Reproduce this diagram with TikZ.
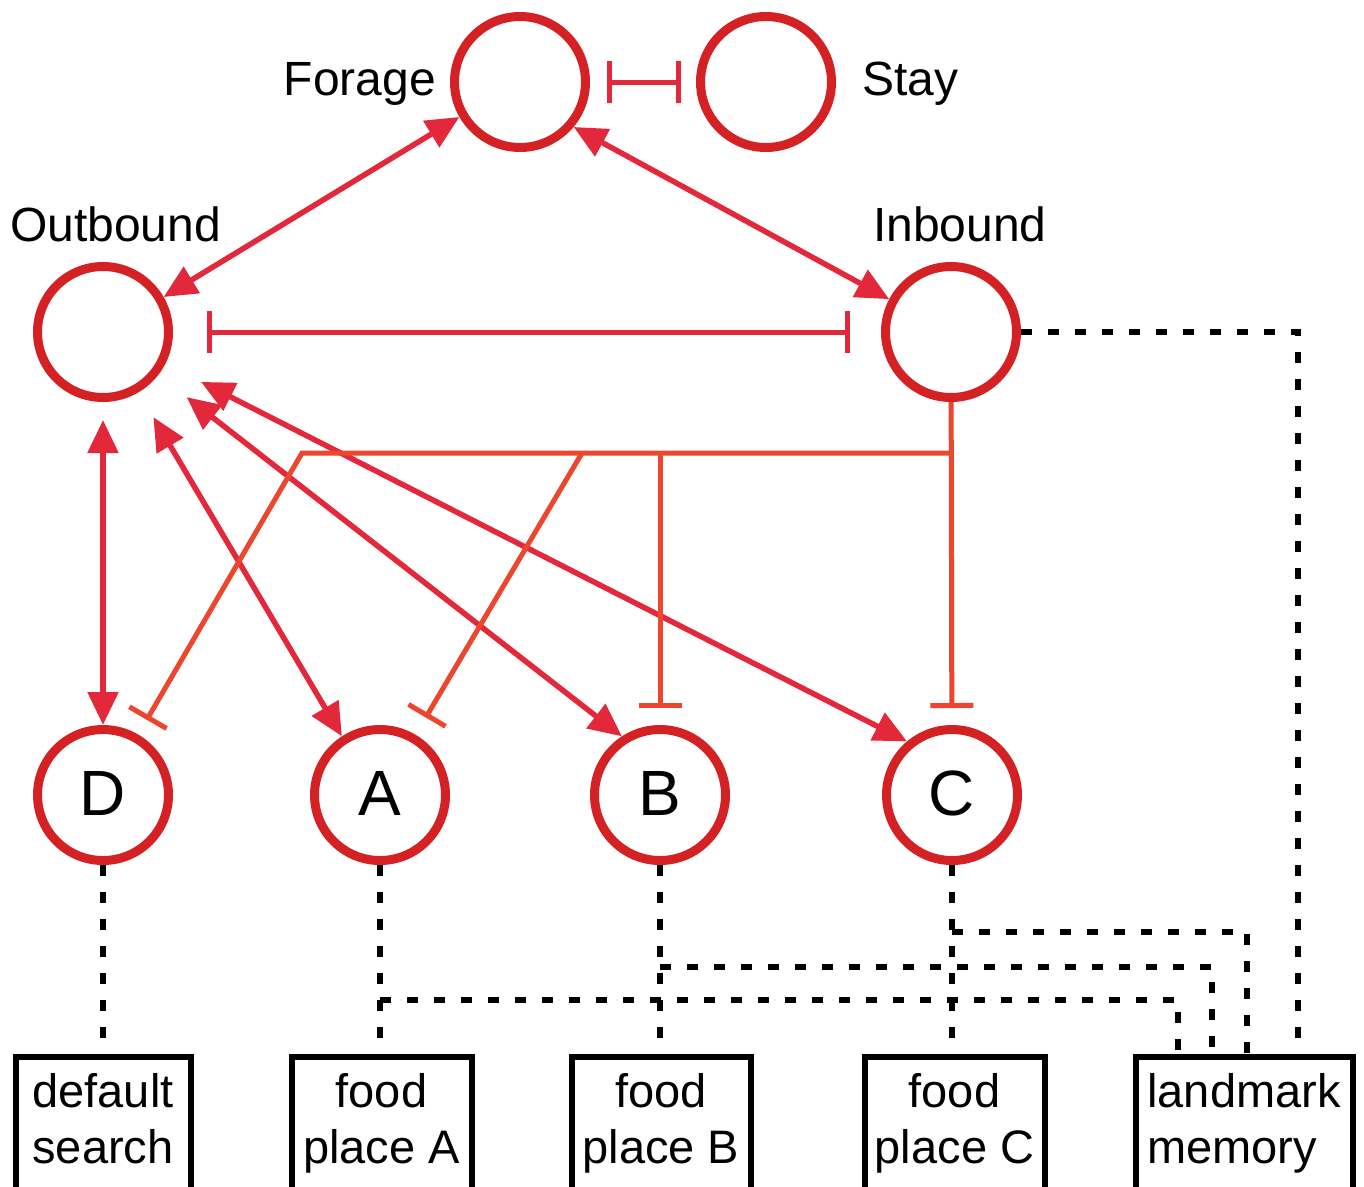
\documentclass[tikz,border=0pt]{standalone}
\usepackage{fontspec}
\setmainfont{Liberation Sans}
\usetikzlibrary{arrows.meta,calc}
\definecolor{circred}{RGB}{212,34,36}
\definecolor{arrred}{RGB}{228,40,60}
\definecolor{inhred}{RGB}{236,70,46}
\begin{document}
\begin{tikzpicture}[x=1pt,y=-1pt,
  state/.style={circle, draw=circred, line width=9pt, minimum size=131pt, inner sep=0pt, font=\fontsize{64}{64}\selectfont},
  lbl/.style={inner sep=0pt, font=\fontsize{48}{48}\selectfont},
  act/.style={draw=arrred, line width=5.5pt, {Triangle[length=33pt,width=30pt]}-{Triangle[length=33pt,width=30pt]}},
  inhib/.style={draw=arrred, line width=5pt, {Bar[width=42pt]}-{Bar[width=42pt]}},
  inhT/.style={draw=inhred, line width=5pt, -{Bar[width=43pt]}},
  dotline/.style={draw=black, line width=6pt, dash pattern=on 11pt off 16pt},
  memory/.style={draw=black, line width=6pt, anchor=north, inner xsep=0pt, inner ysep=0pt,
     text height=106pt, text depth=50pt, align=center, font=\fontsize{47}{56}\selectfont}
]
\useasboundingbox (0,0) rectangle (1364,1186);
\fill[white] (0,0) rectangle (1364,1186);

% state circles
\node[state] (F) at (520,82) {};
\node[state] (S) at (766,82) {};
\node[state] (O) at (103,332) {};
\node[state] (In) at (951,332) {};
\node[state] (D) at (103,795) {\raisebox{4pt}{D}};
\node[state] (A) at (380,795) {\raisebox{4pt}{A}};
\node[state] (B) at (660,795) {\raisebox{4pt}{B}};
\node[state] (C) at (952,795) {\raisebox{4pt}{C}};

% labels
\node[lbl, anchor=base east] (lF) at (436,95) {Forage};
\node[lbl, anchor=base west] (lS) at (862,95) {Stay};
\node[lbl, anchor=base west] (lO) at (10,241) {Outbound};
\node[lbl, anchor=base west] (lIn) at (873,241) {Inbound};

% boxes
\node[memory, minimum width=175pt, align=left] (bD) at (103,1054) {default\\search};
\node[memory, minimum width=180pt] (bA) at (381.5,1054) {food\\place A};
\node[memory, minimum width=179pt] (bB) at (661,1054) {food\\place B};
\node[memory, minimum width=180pt] (bC) at (954.5,1054) {food\\place C};
\node[memory, minimum width=217pt, align=left] (bL) at (1244,1054) {landmark\\memory};

% mutual inhibition
\draw[inhib, shorten <=17pt, shorten >=15pt] (F) -- (S);
\draw[inhib, shorten <=34pt, shorten >=31pt] (O) -- (In);

% activating arrows
\draw[act] (F.210) -- (O.30);
\draw[act] (F.-40) -- (In.152);
\draw[act, shorten <=18pt] (O) -- (D);
\draw[act, shorten <=29pt] (O) -- (A.123);
\draw[act, shorten <=36pt] (O) -- (B.123);
\draw[act, shorten <=40pt] (O) -- (C.130);

% inhibition tree from Inbound
\coordinate (j1) at (951,453);
\coordinate (jD) at (302,453);
\coordinate (jA) at (582,453);
\coordinate (jB) at (660,453);
\draw[inhT, shorten >=17pt] (In) -- (C);
\draw[inhT, shorten >=17pt] (j1) -- (jD) -- (D);
\draw[inhT, shorten >=20pt] (jA) -- (A);
\draw[inhT, shorten >=17pt] (jB) -- (B);

% dotted connections
\draw[dotline] (D) -- (bD);
\draw[dotline] (A.south) -- (A.south |- bA.north);
\draw[dotline] (B.south) -- (B.south |- bB.north);
\draw[dotline] (C.south) -- (C.south |- bC.north);
\coordinate (hA) at (380,1000);
\coordinate (hB) at (660,967);
\coordinate (hC) at (952,932);
\coordinate (lA) at (1178,1054);
\coordinate (lB) at (1212,1054);
\coordinate (lC) at (1247,1054);
\coordinate (lI) at (1298,1054);
\draw[dotline] (hA) -| (lA);
\draw[dotline] (hB) -| (lB);
\draw[dotline] (hC) -| (lC);
\draw[dotline] (In.east) -| (lI);
\end{tikzpicture}
\end{document}
